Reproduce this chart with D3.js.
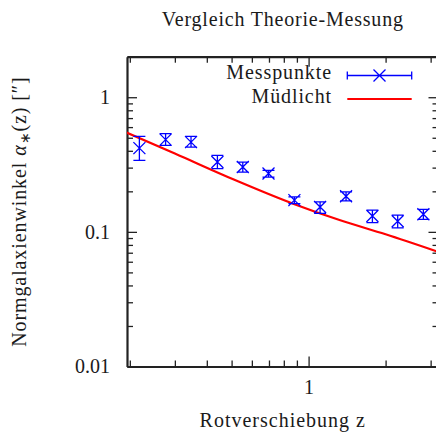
<!DOCTYPE html>
<html>
<head>
<meta charset="utf-8">
<script src="https://cdn.jsdelivr.net/npm/d3@7"></script>
<style>
body{margin:0;background:#fff;}
svg text{font-family:"Liberation Serif",serif;fill:#1a1a1a;}
</style>
</head>
<body>
<svg width="436" height="434"></svg>
<script>
// messpunkte
var zMess=[0.218,0.276,0.347,0.440,0.553,0.697,0.880,1.109,1.401,1.776,2.23,2.81];
var alphaMess=[0.419,0.484,0.464,0.330,0.303,0.271,0.172,0.153,0.184,0.131,0.120,0.135];
var alphaLo=[0.340,0.439,0.426,0.295,0.278,0.255,0.162,0.137,0.170,0.117,0.107,0.124];
var alphaHi=[0.512,0.536,0.512,0.370,0.330,0.286,0.182,0.167,0.198,0.145,0.133,0.147];

// theoriekurve
var zTheo=[0.19,0.30,0.51,0.87,1.33,2.0,3.25];
var alphaTheo=[0.557,0.382,0.245,0.162,0.122,0.096,0.0705];

var xMajor=[1];
var xMinor=[0.2,0.3,0.4,0.5,0.6,0.7,0.8,0.9,2,3];
var yMajor=[0.01,0.1,1];
var yMinor=[0.02,0.03,0.04,0.05,0.06,0.07,0.08,0.09,0.2,0.3,0.4,0.5,0.6,0.7,0.8,0.9,2];
var yLabels=["0.01","0.1","1"];

var plotL=127, plotR=438.5, plotT=56.7, plotB=366.5;

var svg=d3.select("svg");

var scalex=d3.scaleLog()
	.domain([0.195,3.22])
	.range([plotL,plotR]);

var scaley=d3.scaleLog()
	.domain([0.01,2])
	.range([plotB,plotT]);

svg.append("defs")
	.append("clipPath")
	.attr("id","clip")
	.append("rect")
	.attr("x",plotL)
	.attr("y",plotT)
	.attr("width",plotR-plotL)
	.attr("height",plotB-plotT);

function tickaxis(axisfn,scale,values,size,tx,ty,labels)
{
	var ax=axisfn(scale)
		.tickValues(values)
		.tickSizeInner(size)
		.tickSizeOuter(0)
		.tickFormat(function(d,i){return labels?labels[i]:"";});
	var g=svg.append("g")
		.attr("transform","translate("+tx+","+ty+")")
		.call(ax);
	g.selectAll("line").attr("stroke","#222").attr("stroke-width",1.3);
	g.select(".domain").attr("stroke","#222").attr("stroke-width",2.2);
	return g;
}

// minor ticks
tickaxis(d3.axisBottom,scalex,xMinor,-6,0,plotB);
tickaxis(d3.axisTop,scalex,xMinor,-6,0,plotT);
tickaxis(d3.axisLeft,scaley,yMinor,-6,plotL,0);
tickaxis(d3.axisRight,scaley,yMinor,-6,plotR,0);

// major ticks + labels
var gx=tickaxis(d3.axisBottom,scalex,xMajor,-10,0,plotB,["1"]);
gx.select(".domain").remove();
gx.selectAll("text")
	.attr("font-size",20)
	.attr("font-family","Liberation Serif")
	.attr("y",13);
var gy=tickaxis(d3.axisLeft,scaley,yMajor,-10,plotL,0,yLabels);
gy.select(".domain").remove();
gy.selectAll("text")
	.attr("font-size",20)
	.attr("font-family","Liberation Serif")
	.attr("x",-17);
tickaxis(d3.axisTop,scalex,xMajor,-10,0,plotT).select(".domain").remove();
tickaxis(d3.axisRight,scaley,yMajor,-10,plotR,0).select(".domain").remove();

// theorie
var line=d3.line()
	.x(function(d){return scalex(d[0]);})
	.y(function(d){return scaley(d[1]);})
	.curve(d3.curveMonotoneX);

svg.append("path")
	.datum(zTheo.map(function(z,i){return [z,alphaTheo[i]];}))
	.attr("clip-path","url(#clip)")
	.attr("d",line)
	.attr("fill","none")
	.attr("stroke","#ff0000")
	.attr("stroke-width",2.2);

// messpunkte mit fehlerbalken
var cap=6, xs=6;
var pts=svg.append("g")
	.attr("stroke","#0000ff")
	.attr("stroke-width",1.3)
	.attr("fill","none")
	.selectAll("g")
	.data(zMess.map(function(z,i){return {z:z,a:alphaMess[i],lo:alphaLo[i],hi:alphaHi[i]};}))
	.enter()
	.append("g");

pts.append("path")
	.attr("d",function(d){
		var x=scalex(d.z), y=scaley(d.a), y0=scaley(d.lo), y1=scaley(d.hi);
		return "M"+x+","+y0+"V"+y1+
			"M"+(x-cap)+","+y0+"H"+(x+cap)+
			"M"+(x-cap)+","+y1+"H"+(x+cap)+
			"M"+(x-xs)+","+(y-xs)+"L"+(x+xs)+","+(y+xs)+
			"M"+(x-xs)+","+(y+xs)+"L"+(x+xs)+","+(y-xs);
	});

// legende
var legend=svg.append("g");

legend.append("text")
	.attr("x",332)
	.attr("y",79)
	.attr("font-size",20)
	.attr("letter-spacing","0.9px")
	.style("text-anchor","end")
	.text("Messpunkte");

legend.append("text")
	.attr("x",332)
	.attr("y",103)
	.attr("font-size",20)
	.attr("letter-spacing","0.9px")
	.style("text-anchor","end")
	.text("Müdlicht");

var lx0=347.3, lx1=411.7, ly=75.5, lc=(lx0+lx1)/2;
legend.append("path")
	.attr("d","M"+lx0+","+ly+"H"+lx1+
		"M"+lx0+","+(ly-4)+"V"+(ly+4)+
		"M"+lx1+","+(ly-4)+"V"+(ly+4)+
		"M"+(lc-xs)+","+(ly-xs)+"L"+(lc+xs)+","+(ly+xs)+
		"M"+(lc-xs)+","+(ly+xs)+"L"+(lc+xs)+","+(ly-xs))
	.attr("stroke","#0000ff")
	.attr("stroke-width",1.3)
	.attr("fill","none");

legend.append("line")
	.attr("x1",lx0)
	.attr("x2",lx1)
	.attr("y1",99)
	.attr("y2",99)
	.attr("stroke","#ff0000")
	.attr("stroke-width",2.2);

// titel und achsentitel
svg.append("text")
	.attr("x",(plotL+plotR)/2)
	.attr("y",26)
	.attr("font-size",20)
	.attr("letter-spacing","0.8px")
	.style("text-anchor","middle")
	.text("Vergleich Theorie-Messung");

svg.append("text")
	.attr("x",(plotL+plotR)/2)
	.attr("y",427)
	.attr("font-size",20)
	.attr("letter-spacing","1px")
	.style("text-anchor","middle")
	.text("Rotverschiebung z");

var ylab=svg.append("text")
	.attr("transform","translate(26,"+((plotT+plotB)/2)+") rotate(-90)")
	.attr("font-size",20)
	.attr("letter-spacing","0.9px")
	.style("text-anchor","middle");
ylab.append("tspan").text("Normgalaxienwinkel ");
ylab.append("tspan").attr("font-style","italic").text("α");
ylab.append("tspan").attr("font-size",14).attr("dy",4).text("∗");
ylab.append("tspan").attr("dy",-4).text("(z) [″]");
</script>
</body>
</html>
